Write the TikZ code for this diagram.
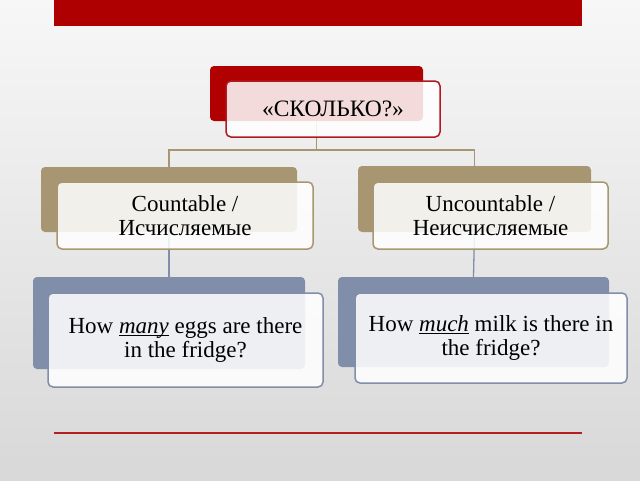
\documentclass[tikz,border=0pt]{standalone}
\usepackage{fontspec}
\setmainfont{Liberation Serif}
\definecolor{barred}{RGB}{174,0,0}
\definecolor{topred}{RGB}{176,0,0}
\definecolor{topborder}{RGB}{178,24,34}
\definecolor{tanc}{RGB}{168,150,114}
\definecolor{bluec}{RGB}{128,142,170}
\definecolor{linered}{RGB}{180,30,35}
\definecolor{bgtop}{RGB}{247,247,247}
\definecolor{bgbot}{RGB}{216,216,216}
\newcommand\myuline[1]{\setbox0\hbox{\textit{#1}}\rlap{\rule[-2.5pt]{\wd0}{1pt}}\box0\relax}
\begin{document}
\begin{tikzpicture}[x=1pt,y=-1pt,
  backbox/.style={rounded corners=4pt, inner sep=0pt, draw=none},
  frontbox/.style={rounded corners=5pt, inner sep=0pt, fill=white, fill opacity=0.86, text opacity=1,
    line width=1.5pt, align=center, font=\fontsize{23}{23.5}\selectfont},
  tanline/.style={draw=tanc, line width=1.3pt},
  blueline/.style={draw=bluec, line width=1.3pt}]
\shade[top color=bgtop, bottom color=bgbot] (0,0) rectangle (640,480);
\useasboundingbox (0,0) rectangle (640,480);
% top bar and bottom rule
\node[fill=barred, inner sep=0pt, minimum width=528pt, minimum height=26pt, anchor=north west] (bar) at (54,0) {};
\coordinate (rl) at (54,433);
\coordinate (rr) at (582,433);
\draw[draw=linered, line width=2pt] (rl) -- (rr);
% back boxes
\node[backbox, fill=topred, minimum width=213pt, minimum height=55pt] (tb) at (316.5,93.5) {};
\node[backbox, fill=tanc, minimum width=256pt, minimum height=65pt] (lb) at (169,199.5) {};
\node[backbox, fill=tanc, minimum width=233pt, minimum height=66pt] (rb) at (474.5,199) {};
\node[backbox, fill=bluec, minimum width=272pt, minimum height=92pt] (llb) at (169,323) {};
\node[backbox, fill=bluec, minimum width=271pt, minimum height=90pt] (rrb) at (473.5,322) {};
% connectors
\coordinate (j) at (316.5,150);
\draw[tanline] (tb.south) -- (j);
\draw[tanline] (j) -| (lb.north);
\draw[tanline] (j) -| (rb.north);
\draw[blueline] (lb.south) -- (llb.north);
\draw[blueline] (rb.south) -- (rrb.north);
% front boxes
\node[frontbox, draw=topborder, minimum width=214pt, minimum height=56pt] (tf) at (333,109) {\fontsize{23.5}{24}\selectfont«СКОЛЬКО?»};
\node[frontbox, draw=tanc, minimum width=256pt, minimum height=67pt] (lf) at (185,215.5) {Countable /\\Исчисляемые};
\node[frontbox, draw=tanc, minimum width=235pt, minimum height=67pt] (rf) at (490.5,215.5) {Uncountable /\\Неисчисляемые};
\node[frontbox, draw=bluec, minimum width=275pt, minimum height=94pt] (llf) at (185.5,340) {How \myuline{many} eggs are there\\in the fridge?};
\node[frontbox, draw=bluec, minimum width=272pt, minimum height=90pt] (rrf) at (491,338) {How \myuline{much} milk is there in\\the fridge?};
\end{tikzpicture}
\end{document}
